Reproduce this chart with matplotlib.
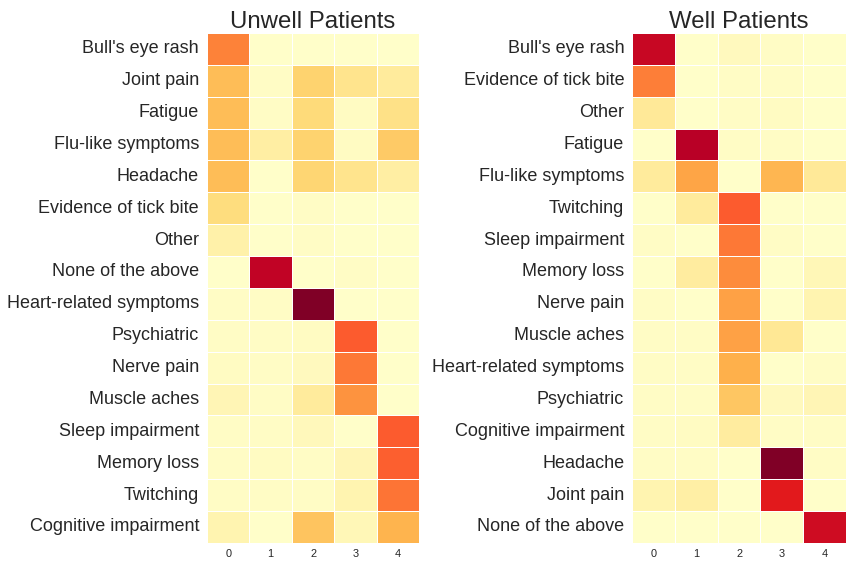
import matplotlib
matplotlib.use("Agg")
import matplotlib.pyplot as plt
import numpy as np
import seaborn as sns

# symptom groups (rows) by cluster (columns 0-4)
unwell_symptoms = ["Bull's eye rash", "Joint pain", "Fatigue", "Flu-like symptoms", "Headache",
                   "Evidence of tick bite", "Other", "None of the above", "Heart-related symptoms",
                   "Psychiatric", "Nerve pain", "Muscle aches", "Sleep impairment", "Memory loss",
                   "Twitching", "Cognitive impairment"]
unwell_values = [
    [0.52, 0.01, 0.01, 0.01, 0.01],
    [0.34, 0.02, 0.27, 0.18, 0.14],
    [0.34, 0.02, 0.24, 0.03, 0.20],
    [0.34, 0.12, 0.27, 0.03, 0.30],
    [0.34, 0.01, 0.26, 0.18, 0.12],
    [0.23, 0.01, 0.02, 0.01, 0.01],
    [0.10, 0.01, 0.02, 0.01, 0.01],
    [0.01, 0.86, 0.01, 0.02, 0.01],
    [0.02, 0.02, 1.00, 0.01, 0.01],
    [0.02, 0.02, 0.03, 0.60, 0.01],
    [0.03, 0.02, 0.04, 0.54, 0.01],
    [0.07, 0.02, 0.14, 0.48, 0.01],
    [0.02, 0.02, 0.05, 0.01, 0.60],
    [0.02, 0.03, 0.02, 0.07, 0.59],
    [0.02, 0.02, 0.02, 0.08, 0.55],
    [0.08, 0.01, 0.32, 0.06, 0.37],
]

well_symptoms = ["Bull's eye rash", "Evidence of tick bite", "Other", "Fatigue", "Flu-like symptoms",
                 "Twitching", "Sleep impairment", "Memory loss", "Nerve pain", "Muscle aches",
                 "Heart-related symptoms", "Psychiatric", "Cognitive impairment", "Headache",
                 "Joint pain", "None of the above"]
well_values = [
    [0.84, 0.01, 0.04, 0.02, 0.01],
    [0.53, 0.01, 0.02, 0.02, 0.01],
    [0.15, 0.01, 0.02, 0.03, 0.01],
    [0.01, 0.88, 0.02, 0.02, 0.01],
    [0.14, 0.42, 0.01, 0.36, 0.15],
    [0.01, 0.14, 0.60, 0.01, 0.01],
    [0.02, 0.01, 0.54, 0.02, 0.01],
    [0.01, 0.13, 0.50, 0.01, 0.06],
    [0.02, 0.01, 0.43, 0.01, 0.08],
    [0.02, 0.02, 0.43, 0.16, 0.01],
    [0.02, 0.02, 0.38, 0.01, 0.02],
    [0.02, 0.02, 0.31, 0.04, 0.07],
    [0.02, 0.03, 0.13, 0.02, 0.02],
    [0.02, 0.02, 0.01, 1.00, 0.02],
    [0.08, 0.11, 0.01, 0.75, 0.01],
    [0.01, 0.01, 0.01, 0.01, 0.82],
]
clusters = ["0", "1", "2", "3", "4"]

sns.set_style("white")
plt.rcParams['font.family'] = ['Liberation Sans', 'DejaVu Sans']

fig = plt.figure(figsize=(852 / 72, 564 / 72), dpi=72)
ax_l = fig.add_axes([0.243, 0.0375, 0.249, 0.904])
ax_r = fig.add_axes([0.742, 0.0375, 0.251, 0.904])

for ax, vals, labels, title in [(ax_l, unwell_values, unwell_symptoms, "Unwell Patients"),
                                (ax_r, well_values, well_symptoms, "Well Patients")]:
    sns.heatmap(np.array(vals), ax=ax, cmap="YlOrRd", vmin=0, vmax=1, cbar=False,
                linewidths=1, linecolor="white", xticklabels=clusters, yticklabels=labels)
    ax.set_title(title, fontsize=24, color="#262626", pad=5)
    ax.tick_params(axis="y", labelsize=18, labelcolor="#262626", length=0, pad=8, rotation=0)
    ax.tick_params(axis="x", labelsize=11, labelcolor="#262626", length=0, pad=6)

fig.savefig("out.png", dpi=72)
